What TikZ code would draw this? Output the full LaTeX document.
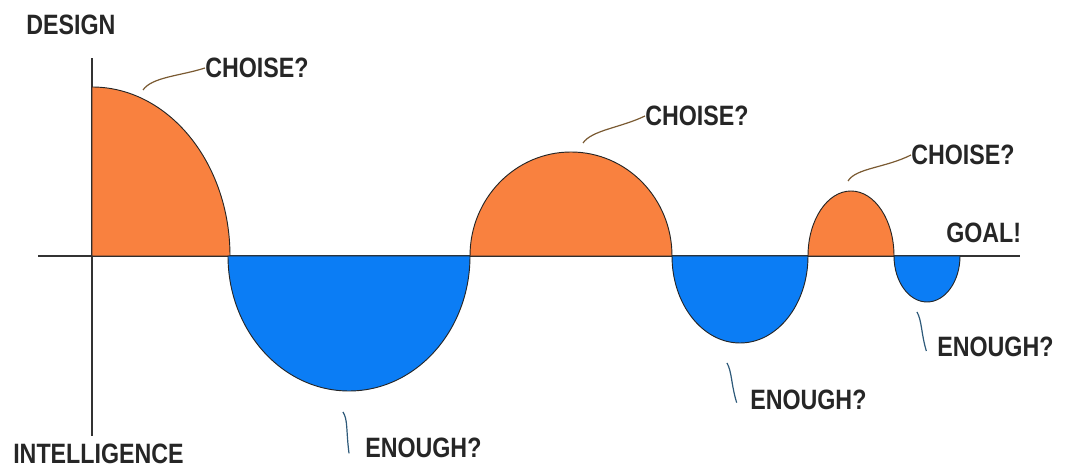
\documentclass[tikz,border=0pt]{standalone}
\usepackage{fontspec}
\setmainfont{Liberation Sans}[FakeStretch=0.83]
\usepackage{xcolor}
\definecolor{lobeorange}{HTML}{F9813F}
\definecolor{lobeblue}{HTML}{0B7DF5}
\definecolor{leaderbrown}{HTML}{7A5A32}
\definecolor{tickblue}{HTML}{2E5A7A}
\usepackage{tikz}
\usetikzlibrary{positioning}

\begin{document}
\begin{tikzpicture}[
      x=0.75pt, y=0.75pt,
      axisline/.style={draw=black!80, line width=1.1pt},
      upper/.style={fill=lobeorange, draw=black!85, line width=0.7pt},
      lower/.style={fill=lobeblue, draw=black!85, line width=0.7pt},
      lbl/.style={anchor=west, inner sep=0pt, text=black!85, font=\fontsize{21}{25}\selectfont\bfseries},
      leader/.style={draw=leaderbrown, line width=0.9pt},
      tick/.style={draw=tickblue, line width=0.9pt},
    ]
    \useasboundingbox (0,0) rectangle (1067,470);

    % axes
    \draw[axisline] (38,214) -- (1020,214);
    \draw[axisline] (92,34) -- (92,412);

    % lobes
    \path[upper] (92,214) -- (92,383) arc (90:0:138 and 169) -- cycle;
    \path[lower] (228,214) arc (180:360:121 and 135) -- cycle;
    \path[upper] (470,214) arc (180:0:101 and 104) -- cycle;
    \path[lower] (672,214) arc (180:360:68 and 87) -- cycle;
    \path[upper] (808,214) arc (180:0:43 and 65) -- cycle;
    \path[lower] (894,214) arc (180:360:33 and 46) -- cycle;

    % labels
    \node[lbl] (design) at (26,445) {DESIGN};
    \node[lbl] (intel) at (13,16) {INTELLIGENCE};
    \node[lbl] (ch1) at (205,402) {CHOISE?};
    \node[lbl] (ch2) at (645,354) {CHOISE?};
    \node[lbl] (ch3) at (911,315) {CHOISE?};
    \node[lbl] (goal) at (946,237) {GOAL!};
    \node[lbl] (en1) at (365,22) {ENOUGH?};
    \node[lbl] (en2) at (750,70) {ENOUGH?};
    \node[lbl] (en3) at (937,123) {ENOUGH?};

    % leaders
    \coordinate (p1) at (143,380);
    \coordinate (p2) at (583,327);
    \coordinate (p3) at (848,289);
    \coordinate (q1) at (343,58);
    \coordinate (q2) at (727,107);
    \coordinate (q3) at (917,158);
    \draw[leader] (p1) .. controls (152,393) and (180,394) .. (ch1.west);
    \draw[leader] (p2) .. controls (592,340) and (620,342) .. (ch2.west);
    \draw[leader] (p3) .. controls (856,302) and (885,302) .. (ch3.west);
    \draw[tick] (q1) .. controls (348,50) and (346,40) .. ([xshift=-12pt,yshift=-4pt]en1.west);
    \draw[tick] (q2) .. controls (732,98) and (731,86) .. ([xshift=-10pt,yshift=-2pt]en2.west);
    \draw[tick] (q3) .. controls (922,149) and (921,137) .. ([xshift=-8pt,yshift=-3pt]en3.west);
  \end{tikzpicture}
\end{document}
